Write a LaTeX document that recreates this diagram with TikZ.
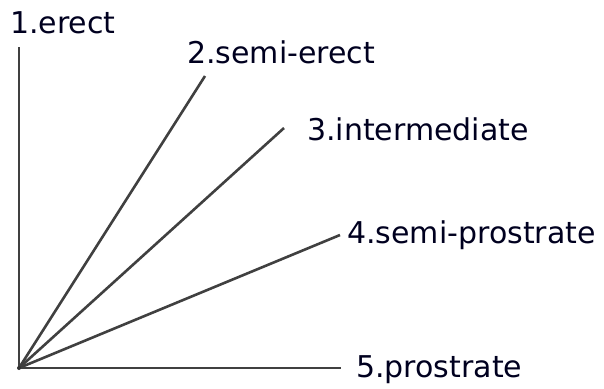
\documentclass[tikz,border=0pt]{standalone}
\usepackage{fontspec}
\setmainfont{DejaVu Sans}
\begin{document}
\begin{tikzpicture}[x=1pt,y=-1pt,
  ray/.style={draw=black!75,line width=2.6pt,line cap=butt},
  lbl/.style={anchor=base west,inner sep=0pt,text=black!88!blue,font=\fontsize{30}{32}\selectfont}]
\useasboundingbox (0,0) rectangle (604,388);
\coordinate (O) at (19,368);
\coordinate (e1) at (19,47);
\coordinate (e2) at (205,76);
\coordinate (e3) at (284,128);
\coordinate (e4) at (340,235);
\coordinate (e5) at (341,368);
\node[lbl] (t1) at (10,33) {1.erect};
\node[lbl] (t2) at (187,63) {2.semi-erect};
\node[lbl] (t3) at (307,140) {3.intermediate};
\node[lbl] (t4) at (347,243) {4.semi-prostrate};
\node[lbl] (t5) at (356,377) {5.prostrate};
\foreach \e in {e1,e2,e3,e4,e5} \draw[ray] (O) -- (\e);
\fill[black!80] (O) circle (2pt);
\end{tikzpicture}
\end{document}
